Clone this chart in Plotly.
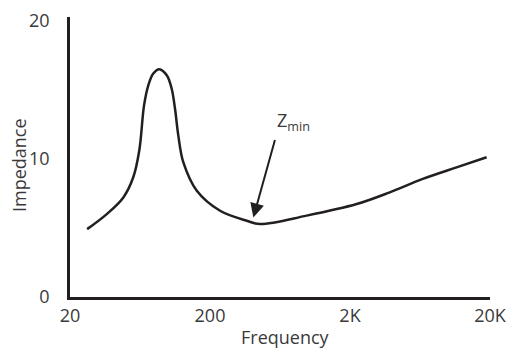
import plotly.graph_objects as go
import math

freq = [26.5, 36.6, 48.1, 56.6, 62.5, 67.6, 72.5, 78.7, 86.8, 98.2, 106.5, 112.5, 118.8, 128.9,
        161, 236, 366, 454, 980, 2232, 3846, 6620, 11540, 18920]
impedance = [4.92, 6.01, 7.22, 8.68, 10.62, 13.89, 15.35, 16.2, 16.51, 16.07, 15.1, 13.65, 11.7, 9.77,
             7.7, 6.25, 5.53, 5.29, 5.9, 6.74, 7.59, 8.56, 9.4, 10.13]

x_tickvals = [20, 200, 2000, 20000]
x_ticktext = ["20", "200", "2K", "20K"]
y_tickvals = [0, 10, 20]

zmin_tip = (408, 5.77)
zmin_label = (784, 12.7)

ink = "#231f20"
txt = "#3a3a3a"
font = "Open Sans"

fig = go.Figure()
fig.add_trace(go.Scatter(x=freq, y=impedance, mode="lines",
                         line=dict(color=ink, width=2.5, shape="spline", smoothing=1.0),
                         hoverinfo="skip", showlegend=False))

fig.add_annotation(x=math.log10(zmin_tip[0]), y=zmin_tip[1], xref="x", yref="y",
                   text="", showarrow=True, ax=22, ay=-79, axref="pixel", ayref="pixel",
                   arrowhead=2, arrowsize=1.4, arrowwidth=2, arrowcolor=ink, standoff=0)
fig.add_annotation(x=math.log10(zmin_label[0]), y=zmin_label[1], xref="x", yref="y",
                   text="Z<sub>min</sub>", showarrow=False,
                   font=dict(family=font, size=18, color=txt))

# axis titles placed as annotations in paper coordinates
fig.add_annotation(x=(285 - 70) / 420, y=-(337 - 297) / 280, xref="paper", yref="paper",
                   xanchor="center", yanchor="middle",
                   text="Frequency", showarrow=False, font=dict(family=font, size=18, color=txt))
fig.add_annotation(x=-(70 - 19) / 420, y=(297 - 165) / 280, xref="paper", yref="paper",
                   xanchor="center", yanchor="middle",
                   text="Impedance", textangle=-90, showarrow=False,
                   font=dict(family=font, size=18, color=txt))

fig.update_layout(
    width=511, height=350,
    margin=dict(l=70, r=21, t=17, b=53, autoexpand=False),
    paper_bgcolor="white", plot_bgcolor="white",
    font=dict(family=font, size=18, color=txt),
    xaxis=dict(type="log", range=[math.log10(20), math.log10(20000)],
               tickvals=x_tickvals, ticktext=x_ticktext, automargin=False,
               showgrid=False, zeroline=False, showline=True, linecolor=ink, linewidth=2.5,
               ticks="", tickfont=dict(size=18, color=txt), ticklabelstandoff=1),
    yaxis=dict(range=[0, 20.3], tickvals=y_tickvals, automargin=False,
               showgrid=False, zeroline=False, showline=True, linecolor=ink, linewidth=2.5,
               ticks="", tickfont=dict(size=18, color=txt), ticklabelstandoff=14),
)

fig.write_html("out.html", config={"displayModeBar": False},
               post_script="document.body.style.margin='0';")
